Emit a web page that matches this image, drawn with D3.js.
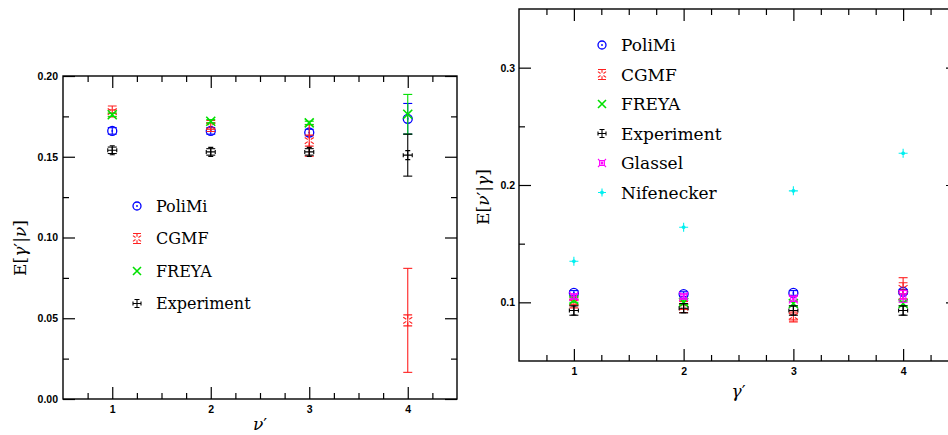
<!DOCTYPE html>
<html>
<head>
<meta charset="utf-8">
<script src="https://cdn.jsdelivr.net/npm/d3@7"></script>
<style>
  body { margin: 0; background: #fff; }
  svg { display: block; }
  .tick text { font-family: "Liberation Sans", Arial, sans-serif; font-weight: bold; font-size: 10.5px; fill: #000; }
  .tick line { stroke: #000; stroke-width: 1.2; }
</style>
</head>
<body>
<svg id="chart" width="948" height="435"></svg>
<script>
// x categories (both panels)
const nuPrime = [1, 2, 3, 4];
const gammaPrime = [1, 2, 3, 4];

// left panel: E[gamma'|nu]
const gPoliMi = [0.166, 0.166, 0.165, 0.1735];
const gPoliMiErr = [0.002, 0.002, 0.002, 0.0095];
const gCGMF = [0.178, 0.169, 0.160, 0.0487];
const gCGMFErr = [0.001, 0.002, 0.0097, 0.0322];
const gFREYA = [0.176, 0.172, 0.171, 0.1763];
const gFREYAErr = [0.001, 0.001, 0.001, 0.0123];
const gExp = [0.154, 0.153, 0.153, 0.151];
const gExpErr = [0.002, 0.002, 0.002, 0.013];

// right panel: E[nu'|gamma]
const nPoliMi = [0.108, 0.107, 0.108, 0.109];
const nPoliMiErr = [0.002, 0.002, 0.002, 0.002];
const nCGMF = [0.100, 0.096, 0.088, 0.112];
const nCGMFErr = [0.002, 0.002, 0.003, 0.009];
const nFREYA = [0.102, 0.100, 0.099, 0.099];
const nFREYAErr = [0.002, 0.002, 0.002, 0.002];
const nExp = [0.093, 0.095, 0.093, 0.093];
const nExpErr = [0.004, 0.004, 0.004, 0.004];
const nGlassel = [0.105, 0.105, 0.103, 0.105];
const nGlasselErr = [0.002, 0.002, 0.002, 0.005];
const nNifenecker = [0.135, 0.164, 0.195, 0.227];

const SERIF = '"DejaVu Serif", "Liberation Serif", serif';
const svg = d3.select("#chart");

// marker outlines, s = half size
function markerPath(shape, s) {
  const p = d3.path();
  switch (shape) {
    case "cgmf": {
      [90, 35, 145, 215, 325, 270].forEach((a) => {
        const r = (a * Math.PI) / 180;
        p.moveTo(Math.cos(r) * 1.8, -Math.sin(r) * 1.8);
        p.lineTo(Math.cos(r) * s, -Math.sin(r) * s);
      });
      p.moveTo(-s * 0.8, -s); p.lineTo(s * 0.8, -s);
      p.moveTo(-s * 0.8, s); p.lineTo(s * 0.8, s);
      break;
    }
    case "freya":
      p.moveTo(-s, -s); p.lineTo(s, s);
      p.moveTo(-s, s); p.lineTo(s, -s);
      break;
    case "exp":
      p.moveTo(-s, 0); p.lineTo(s, 0);
      p.moveTo(0, -s); p.lineTo(0, s);
      p.moveTo(-s, -2); p.lineTo(-s, 2);
      p.moveTo(s, -2); p.lineTo(s, 2);
      p.moveTo(-2.5, -s); p.lineTo(2.5, -s);
      p.moveTo(-2.5, s); p.lineTo(2.5, s);
      break;
    case "glassel":
      p.rect(-s * 0.6, -s * 0.6, s * 1.2, s * 1.2);
      p.moveTo(-s, -s); p.lineTo(-s * 0.6, -s * 0.6);
      p.moveTo(s, -s); p.lineTo(s * 0.6, -s * 0.6);
      p.moveTo(-s, s); p.lineTo(-s * 0.6, s * 0.6);
      p.moveTo(s, s); p.lineTo(s * 0.6, s * 0.6);
      p.rect(-0.7, -0.7, 1.4, 1.4);
      break;
    case "nife":
      p.moveTo(-s, 0); p.lineTo(s, 0);
      p.moveTo(0, -s); p.lineTo(0, s);
      p.moveTo(-1.8, 0); p.lineTo(0, -1.8); p.lineTo(1.8, 0); p.lineTo(0, 1.8); p.closePath();
      break;
  }
  return p.toString();
}

function drawMarker(g, shape, color, s) {
  if (shape === "polimi") {
    g.append("circle").attr("r", s).attr("fill", "none")
      .attr("stroke", color).attr("stroke-width", 1.3);
    g.append("circle").attr("r", 0.9).attr("fill", color);
  } else {
    g.append("path").attr("d", markerPath(shape, shape === "cgmf" ? s + 1 : s)).attr("fill", "none")
      .attr("stroke", color).attr("stroke-width", shape === "freya" ? 1.6 : 1.1);
  }
}

function drawPanel(cfg) {
  const x = d3.scaleLinear().domain([0.5, 4.5]).range([cfg.left, cfg.right]);
  const y = d3.scaleLinear().domain(cfg.yDomain).range([cfg.bottom, cfg.top]);
  const g = svg.append("g");

  const xMajor = d3.range(1, 5);
  const xMinor = d3.range(0.75, 4.5, 0.25).filter((v) => !xMajor.includes(v));
  const yMajor = cfg.yMajor;
  const yMinor = cfg.yMinor;

  const ax = (axis, tr, vals, size, fmt) => {
    g.append("g").attr("transform", tr)
      .call(axis.tickValues(vals).tickSize(size).tickPadding(7).tickFormat(fmt))
      .call((s) => s.select(".domain").remove());
  };
  const none = () => "";
  ax(d3.axisBottom(x), `translate(0,${cfg.bottom})`, xMajor, -12, d3.format("d"));
  ax(d3.axisBottom(x), `translate(0,${cfg.bottom})`, xMinor, -6, none);
  ax(d3.axisTop(x), `translate(0,${cfg.top})`, xMajor, -12, none);
  ax(d3.axisTop(x), `translate(0,${cfg.top})`, xMinor, -6, none);
  g.append("g").attr("transform", `translate(${cfg.left},0)`)
    .call(d3.axisLeft(y).tickValues(yMajor).tickSize(-12).tickPadding(cfg.yPad).tickFormat(d3.format(cfg.fmt)))
    .call((s) => s.select(".domain").remove());
  ax(d3.axisLeft(y), `translate(${cfg.left},0)`, yMinor, -6, none);
  ax(d3.axisRight(y), `translate(${cfg.right},0)`, yMajor, -12, none);
  ax(d3.axisRight(y), `translate(${cfg.right},0)`, yMinor, -6, none);

  g.append("rect").attr("x", cfg.left).attr("y", cfg.top)
    .attr("width", cfg.right - cfg.left).attr("height", cfg.bottom - cfg.top)
    .attr("fill", "none").attr("stroke", "#000").attr("stroke-width", 1.4);

  // error bars then markers
  cfg.series.forEach((sr) => {
    const pts = cfg.cats.map((c, i) => ({ c, v: sr.values[i], e: sr.errs ? sr.errs[i] : 0 }));
    const eg = g.append("g").attr("stroke", sr.color).attr("stroke-width", 1.1);
    pts.filter((d) => d.e > 0).forEach((d) => {
      const cx = x(d.c);
      eg.append("line").attr("x1", cx).attr("x2", cx).attr("y1", y(d.v - d.e)).attr("y2", y(d.v + d.e));
      eg.append("line").attr("x1", cx - 4.5).attr("x2", cx + 4.5).attr("y1", y(d.v - d.e)).attr("y2", y(d.v - d.e));
      eg.append("line").attr("x1", cx - 4.5).attr("x2", cx + 4.5).attr("y1", y(d.v + d.e)).attr("y2", y(d.v + d.e));
    });
    pts.forEach((d) => {
      const mg = g.append("g").attr("transform", `translate(${x(d.c)},${y(d.v)})`);
      drawMarker(mg, sr.shape, sr.color, 4.5);
    });
  });

  // legend
  const lg = g.append("g");
  cfg.series.forEach((sr, i) => {
    const ly = cfg.legY + i * cfg.legStep;
    const mg = lg.append("g").attr("transform", `translate(${cfg.legX},${ly})`);
    drawMarker(mg, sr.shape, sr.color, 4);
    lg.append("text").attr("x", cfg.legX + 19).attr("y", ly).attr("dy", "0.36em")
      .attr("font-family", SERIF).attr("font-size", cfg.legFont).attr("fill", "#000")
      .text(sr.name);
  });

  // axis titles
  const xt = g.append("text").attr("font-family", SERIF).attr("x", (cfg.left + cfg.right) / 2)
    .attr("y", cfg.xTitleY).attr("text-anchor", "middle").attr("font-size", 17);
  xt.append("tspan").attr("font-style", "italic").text(cfg.xVar);
  xt.append("tspan").text("′");

  const yt = g.append("text").attr("font-family", SERIF)
    .attr("transform", `translate(${cfg.yTitleX},${cfg.yTitleY}) rotate(-90)`)
    .attr("text-anchor", "middle").attr("font-size", 17);
  yt.append("tspan").text("E[");
  yt.append("tspan").attr("font-style", "italic").text(cfg.yNum);
  yt.append("tspan").text("′|");
  yt.append("tspan").attr("font-style", "italic").text(cfg.yCond);
  yt.append("tspan").text("]");
}

drawPanel({
  left: 63, right: 457, top: 76, bottom: 399,
  yDomain: [0, 0.2], fmt: ".2f", yPad: 5,
  yMajor: [0, 0.05, 0.1, 0.15, 0.2],
  yMinor: [0.025, 0.075, 0.125, 0.175],
  cats: nuPrime,
  series: [
    { name: "PoliMi", color: "#0000ff", shape: "polimi", values: gPoliMi, errs: gPoliMiErr },
    { name: "CGMF", color: "#ff2020", shape: "cgmf", values: gCGMF, errs: gCGMFErr },
    { name: "FREYA", color: "#00e000", shape: "freya", values: gFREYA, errs: gFREYAErr },
    { name: "Experiment", color: "#000000", shape: "exp", values: gExp, errs: gExpErr },
  ],
  legX: 137, legY: 206, legStep: 32.5, legFont: 16,
  xVar: "ν", xTitleY: 430,
  yNum: "γ", yCond: "ν", yTitleX: 26, yTitleY: 248,
});

drawPanel({
  left: 519, right: 958, top: 9, bottom: 361,
  yDomain: [0.05, 0.35], fmt: ".1f", yPad: 4,
  yMajor: [0.1, 0.2, 0.3],
  yMinor: [0.15, 0.25],
  cats: gammaPrime,
  series: [
    { name: "PoliMi", color: "#0000ff", shape: "polimi", values: nPoliMi, errs: nPoliMiErr },
    { name: "CGMF", color: "#ff2020", shape: "cgmf", values: nCGMF, errs: nCGMFErr },
    { name: "FREYA", color: "#00e000", shape: "freya", values: nFREYA, errs: nFREYAErr },
    { name: "Experiment", color: "#000000", shape: "exp", values: nExp, errs: nExpErr },
    { name: "Glassel", color: "#ff00ff", shape: "glassel", values: nGlassel, errs: nGlasselErr },
    { name: "Nifenecker", color: "#00f0f0", shape: "nife", values: nNifenecker, errs: null },
  ],
  legX: 602, legY: 45, legStep: 29.5, legFont: 17,
  xVar: "γ", xTitleY: 397,
  yNum: "ν", yCond: "γ", yTitleX: 489, yTitleY: 197,
});
</script>
</body>
</html>
